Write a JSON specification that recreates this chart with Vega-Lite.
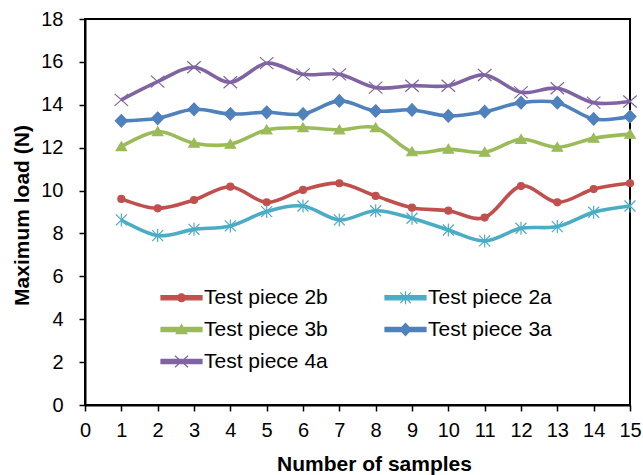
{
  "$schema": "https://vega.github.io/schema/vega-lite/v6.json",
  "autosize": {"type": "none"},
  "padding": {"left": 85, "top": 19, "right": 13, "bottom": 70},
  "width": 545,
  "height": 386,
  "background": "white",
  "config": {
    "font": "Liberation Sans",
    "view": {"stroke": "black", "strokeWidth": 2},
    "axis": {
      "labelFont": "Liberation Sans",
      "labelFontSize": 20,
      "labelColor": "black",
      "titleFont": "Liberation Sans",
      "titleFontSize": 21,
      "titleFontWeight": "bold",
      "titleColor": "black",
      "domainColor": "black",
      "domainWidth": 2,
      "tickColor": "black",
      "tickWidth": 1.5,
      "tickSize": 6,
      "grid": false
    }
  },
  "data": {
    "values": [
      {"sample": 1, "load": 9.61, "series": "Test piece 2b"},
      {"sample": 2, "load": 9.17, "series": "Test piece 2b"},
      {"sample": 3, "load": 9.56, "series": "Test piece 2b"},
      {"sample": 4, "load": 10.18, "series": "Test piece 2b"},
      {"sample": 5, "load": 9.45, "series": "Test piece 2b"},
      {"sample": 6, "load": 10.03, "series": "Test piece 2b"},
      {"sample": 7, "load": 10.34, "series": "Test piece 2b"},
      {"sample": 8, "load": 9.75, "series": "Test piece 2b"},
      {"sample": 9, "load": 9.2, "series": "Test piece 2b"},
      {"sample": 10, "load": 9.06, "series": "Test piece 2b"},
      {"sample": 11, "load": 8.74, "series": "Test piece 2b"},
      {"sample": 12, "load": 10.21, "series": "Test piece 2b"},
      {"sample": 13, "load": 9.45, "series": "Test piece 2b"},
      {"sample": 14, "load": 10.07, "series": "Test piece 2b"},
      {"sample": 15, "load": 10.34, "series": "Test piece 2b"},
      {"sample": 1, "load": 8.63, "series": "Test piece 2a"},
      {"sample": 2, "load": 7.9, "series": "Test piece 2a"},
      {"sample": 3, "load": 8.19, "series": "Test piece 2a"},
      {"sample": 4, "load": 8.35, "series": "Test piece 2a"},
      {"sample": 5, "load": 9.02, "series": "Test piece 2a"},
      {"sample": 6, "load": 9.28, "series": "Test piece 2a"},
      {"sample": 7, "load": 8.63, "series": "Test piece 2a"},
      {"sample": 8, "load": 9.06, "series": "Test piece 2a"},
      {"sample": 9, "load": 8.71, "series": "Test piece 2a"},
      {"sample": 10, "load": 8.16, "series": "Test piece 2a"},
      {"sample": 11, "load": 7.65, "series": "Test piece 2a"},
      {"sample": 12, "load": 8.24, "series": "Test piece 2a"},
      {"sample": 13, "load": 8.32, "series": "Test piece 2a"},
      {"sample": 14, "load": 8.99, "series": "Test piece 2a"},
      {"sample": 15, "load": 9.28, "series": "Test piece 2a"},
      {"sample": 1, "load": 12.05, "series": "Test piece 3b"},
      {"sample": 2, "load": 12.75, "series": "Test piece 3b"},
      {"sample": 3, "load": 12.21, "series": "Test piece 3b"},
      {"sample": 4, "load": 12.16, "series": "Test piece 3b"},
      {"sample": 5, "load": 12.83, "series": "Test piece 3b"},
      {"sample": 6, "load": 12.93, "series": "Test piece 3b"},
      {"sample": 7, "load": 12.83, "series": "Test piece 3b"},
      {"sample": 8, "load": 12.93, "series": "Test piece 3b"},
      {"sample": 9, "load": 11.81, "series": "Test piece 3b"},
      {"sample": 10, "load": 11.93, "series": "Test piece 3b"},
      {"sample": 11, "load": 11.79, "series": "Test piece 3b"},
      {"sample": 12, "load": 12.39, "series": "Test piece 3b"},
      {"sample": 13, "load": 12.02, "series": "Test piece 3b"},
      {"sample": 14, "load": 12.44, "series": "Test piece 3b"},
      {"sample": 15, "load": 12.63, "series": "Test piece 3b"},
      {"sample": 1, "load": 13.25, "series": "Test piece 3a"},
      {"sample": 2, "load": 13.37, "series": "Test piece 3a"},
      {"sample": 3, "load": 13.79, "series": "Test piece 3a"},
      {"sample": 4, "load": 13.57, "series": "Test piece 3a"},
      {"sample": 5, "load": 13.65, "series": "Test piece 3a"},
      {"sample": 6, "load": 13.57, "series": "Test piece 3a"},
      {"sample": 7, "load": 14.18, "series": "Test piece 3a"},
      {"sample": 8, "load": 13.71, "series": "Test piece 3a"},
      {"sample": 9, "load": 13.76, "series": "Test piece 3a"},
      {"sample": 10, "load": 13.48, "series": "Test piece 3a"},
      {"sample": 11, "load": 13.68, "series": "Test piece 3a"},
      {"sample": 12, "load": 14.1, "series": "Test piece 3a"},
      {"sample": 13, "load": 14.1, "series": "Test piece 3a"},
      {"sample": 14, "load": 13.34, "series": "Test piece 3a"},
      {"sample": 15, "load": 13.45, "series": "Test piece 3a"},
      {"sample": 1, "load": 14.23, "series": "Test piece 4a"},
      {"sample": 2, "load": 15.08, "series": "Test piece 4a"},
      {"sample": 3, "load": 15.75, "series": "Test piece 4a"},
      {"sample": 4, "load": 15.05, "series": "Test piece 4a"},
      {"sample": 5, "load": 15.94, "series": "Test piece 4a"},
      {"sample": 6, "load": 15.42, "series": "Test piece 4a"},
      {"sample": 7, "load": 15.42, "series": "Test piece 4a"},
      {"sample": 8, "load": 14.8, "series": "Test piece 4a"},
      {"sample": 9, "load": 14.89, "series": "Test piece 4a"},
      {"sample": 10, "load": 14.89, "series": "Test piece 4a"},
      {"sample": 11, "load": 15.39, "series": "Test piece 4a"},
      {"sample": 12, "load": 14.58, "series": "Test piece 4a"},
      {"sample": 13, "load": 14.77, "series": "Test piece 4a"},
      {"sample": 14, "load": 14.1, "series": "Test piece 4a"},
      {"sample": 15, "load": 14.15, "series": "Test piece 4a"}
    ]
  },
  "encoding": {
    "x": {
      "field": "sample",
      "type": "quantitative",
      "scale": {"domain": [0, 15], "nice": false},
      "axis": {
        "title": "Number of samples",
        "values": [0,1,2,3,4,5,6,7,8,9,10,11,12,13,14,15],
        "labelPadding": 9,
        "titleX": 289,
        "titleY": 65,
        "titleAlign": "center",
        "titleBaseline": "alphabetic",
        "labelFlush": false,
        "labelOverlap": false
      }
    },
    "y": {
      "field": "load",
      "type": "quantitative",
      "scale": {"domain": [0, 18], "nice": false},
      "axis": {
        "title": "Maximum load (N)",
        "values": [0,2,4,6,8,10,12,14,16,18],
        "labelPadding": 16,
        "titleX": -57,
        "titleY": 196,
        "titleAngle": -90,
        "titleAlign": "center",
        "titleBaseline": "alphabetic",
        "labelFlush": false,
        "labelOverlap": false
      }
    }
  },
  "layer": [
    {
      "mark": {"type": "line", "interpolate": "cardinal", "strokeWidth": 3.6},
      "encoding": {
        "color": {
          "field": "series",
          "type": "nominal",
          "scale": {
            "domain": ["Test piece 2b", "Test piece 2a", "Test piece 3b", "Test piece 3a", "Test piece 4a"],
            "range": ["#C0504D", "#4BACC6", "#9BBB59", "#4F81BD", "#8064A2"]
          }
        }
      }
    },
    {
      "transform": [{"filter": "datum.sample > 100"}],
      "mark": {"type": "point", "filled": true, "strokeWidth": 1.2, "opacity": 1},
      "encoding": {
        "color": {
          "field": "series",
          "type": "nominal",
          "legend": {
            "title": null,
            "orient": "none",
            "legendX": 75,
            "legendY": 257,
            "columns": 2,
            "direction": "horizontal",
            "columnPadding": 54,
            "rowPadding": -1,
            "padding": 0,
            "symbolSize": 1681,
            "symbolStrokeWidth": 1.2,
            "symbolOpacity": 1,
            "labelOffset": 1,
            "labelFont": "Liberation Sans",
            "labelFontSize": 21,
            "labelColor": "black",
            "labelLimit": 400,
            "encoding": {
              "symbols": {"update": {"opacity": {"value": 1}}}
            }
          }
        },
        "stroke": {
          "field": "series",
          "type": "nominal",
          "scale": {
            "domain": ["Test piece 2b", "Test piece 2a", "Test piece 3b", "Test piece 3a", "Test piece 4a"],
            "range": ["#C0504D", "#4BACC6", "#9BBB59", "#4F81BD", "#8064A2"]
          }
        },
        "shape": {
          "field": "series",
          "type": "nominal",
          "scale": {
            "domain": ["Test piece 2b", "Test piece 2a", "Test piece 3b", "Test piece 3a", "Test piece 4a"],
            "range": [
              "M-1,-0.1H1V0.1H-1Z M-0.19,0A0.19,0.19 0 1,1 0.19,0A0.19,0.19 0 1,1 -0.19,0Z",
              "M-1,-0.1H1V0.1H-1Z M-0.26,-0.26L0.26,0.26M-0.26,0.26L0.26,-0.26M0,-0.32L0,0.32",
              "M-1,-0.1H1V0.1H-1Z M0,-0.24L0.26,0.2L-0.26,0.2Z",
              "M-1,-0.1H1V0.1H-1Z M0,-0.3L0.28,0L0,0.3L-0.28,0Z",
              "M-1,-0.1H1V0.1H-1Z M-0.32,-0.28L0.32,0.28M-0.32,0.28L0.32,-0.28"
            ]
          }
        }
      }
    },
    {
      "transform": [{"filter": {"field": "series", "equal": "Test piece 2b"}}],
      "mark": {"type": "point", "shape": "M-0.7,0A0.7,0.7 0 1,1 0.7,0A0.7,0.7 0 1,1 -0.7,0Z", "size": 100, "filled": true, "fill": "#C0504D", "stroke": "#C0504D", "strokeWidth": 1.2, "opacity": 1}
    },
    {
      "transform": [{"filter": {"field": "series", "equal": "Test piece 2a"}}],
      "mark": {"type": "point", "shape": "M-1.1,-1.1L1.1,1.1M-1.1,1.1L1.1,-1.1M0,-1.3L0,1.3", "size": 100, "filled": false, "fill": "#4BACC6", "stroke": "#4BACC6", "strokeWidth": 1.2, "opacity": 1}
    },
    {
      "transform": [{"filter": {"field": "series", "equal": "Test piece 3b"}}],
      "mark": {"type": "point", "shape": "M0,-0.95L1.05,0.8L-1.05,0.8Z", "size": 100, "filled": true, "fill": "#9BBB59", "stroke": "#9BBB59", "strokeWidth": 1.2, "opacity": 1}
    },
    {
      "transform": [{"filter": {"field": "series", "equal": "Test piece 3a"}}],
      "mark": {"type": "point", "shape": "M0,-1.25L1.2,0L0,1.25L-1.2,0Z", "size": 100, "filled": true, "fill": "#4F81BD", "stroke": "#4F81BD", "strokeWidth": 1.2, "opacity": 1}
    },
    {
      "transform": [{"filter": {"field": "series", "equal": "Test piece 4a"}}],
      "mark": {"type": "point", "shape": "M-1.35,-1.2L1.35,1.2M-1.35,1.2L1.35,-1.2", "size": 100, "filled": false, "fill": "#8064A2", "stroke": "#8064A2", "strokeWidth": 1.2, "opacity": 1}
    }
  ]
}
